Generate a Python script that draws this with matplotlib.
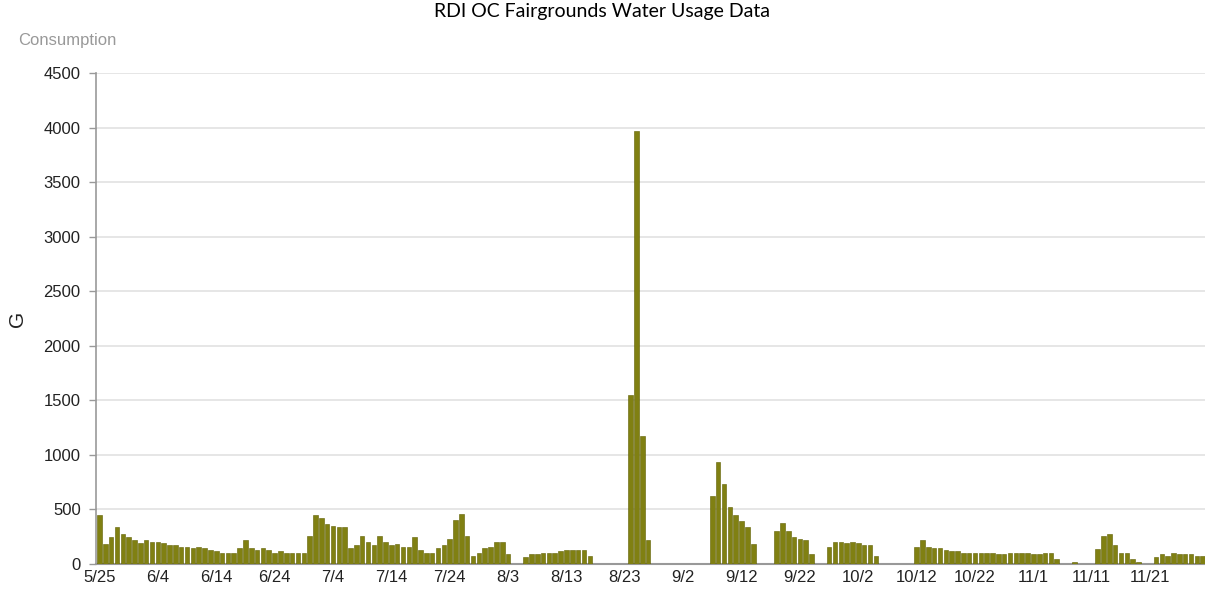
import matplotlib
matplotlib.use("Agg")
import matplotlib.pyplot as plt
import numpy as np

# Daily consumption (G), starting 5/25 (index 0) through 11/30
values = [
    # 5/25 - 6/30 (idx 0-36)
    450, 180, 250, 335, 275, 250, 220, 190, 220, 205,
    205, 190, 175, 175, 160, 160, 145, 160, 145, 130,
    118, 103, 103, 103, 145, 220, 145, 130, 145, 130,
    103, 118, 103, 103, 103, 103, 260,
    # 7/1 - 7/31 (idx 37-67)
    450, 420, 365, 350, 335, 335, 150, 175, 260, 200,
    175, 260, 200, 175, 185, 160, 160, 250, 130, 105,
    105, 145, 175, 230, 405, 460, 260, 75, 105, 145,
    160,
    # 8/1 - 8/31 (idx 68-98)
    200, 200, 90, 0, 0, 60, 90, 90, 105, 105,
    105, 118, 130, 130, 130, 130, 75, 0, 0, 0,
    0, 0, 0, 1550, 3970, 1175, 220, 0, 0, 0,
    0,
    # 9/1 - 9/30 (idx 99-128)
    0, 0, 0, 0, 0, 0, 620, 935, 735, 520,
    450, 395, 335, 180, 0, 0, 0, 305, 380, 305,
    250, 230, 220, 90, 0, 0, 160, 200, 200, 190,
    # 10/1 - 10/31 (idx 129-159)
    205, 190, 175, 175, 75, 0, 0, 0, 0, 0,
    0, 160, 220, 160, 145, 145, 130, 118, 118, 103,
    103, 103, 103, 103, 103, 88, 88, 103, 103, 103,
    103,
    # 11/1 - 11/30 (idx 160-189)
    88, 88, 103, 103, 45, 0, 0, 15, 0, 0,
    0, 133, 260, 275, 175, 103, 103, 45, 15, 0,
    0, 60, 88, 73, 103, 88, 88, 88, 75, 75,
]

tick_positions = list(range(0, 190, 10))
tick_labels = ["5/25", "6/4", "6/14", "6/24", "7/4", "7/14", "7/24", "8/3",
               "8/13", "8/23", "9/2", "9/12", "9/22", "10/2", "10/12",
               "10/22", "11/1", "11/11", "11/21"]
y_ticks = list(range(0, 4501, 500))

plt.rcParams['font.family'] = ['Liberation Sans', 'DejaVu Sans']

fig = plt.figure(figsize=(12.05, 5.92), dpi=100)
ax = fig.add_axes([96/1205, 1 - 564/592, 1 - 96/1205, (564 - 73)/592])

x = np.arange(len(values))
ax.bar(x, values, width=0.78, color='#808012', edgecolor='#5e5e00',
       linewidth=0.4, zorder=3)

ax.set_xlim(-0.6, 189.4)
ax.set_ylim(0, 4500)
ax.set_yticks(y_ticks)
ax.set_yticklabels([str(v) for v in y_ticks], fontsize=12, color='#222222')
ax.set_xticks(tick_positions)
ax.set_xticklabels(tick_labels, fontsize=12, color='#222222')
ax.tick_params(axis='x', length=0, pad=4)
ax.tick_params(axis='y', length=5, width=1, color='#999999', pad=6)

ax.yaxis.grid(True, color='#e2e2e2', linewidth=1.2, zorder=0)
ax.set_axisbelow(True)
for s in ['top', 'right']:
    ax.spines[s].set_visible(False)
ax.spines['left'].set_color('#999999')
ax.spines['left'].set_linewidth(1.2)
ax.spines['bottom'].set_color('#999999')
ax.spines['bottom'].set_linewidth(1.5)

ax.set_ylabel('G', fontsize=15, color='#222222', labelpad=12)

fig.text(18/1205, 1 - 40/592, 'Consumption', fontsize=12, color='#999999',
         ha='left', va='center')
fig.text(0.5, 1 - 12/592, 'RDI OC Fairgrounds Water Usage Data', fontsize=14,
         color='#000000', ha='center', va='center', family=['Lato', 'DejaVu Sans'])

fig.savefig('out.png', dpi=100)
